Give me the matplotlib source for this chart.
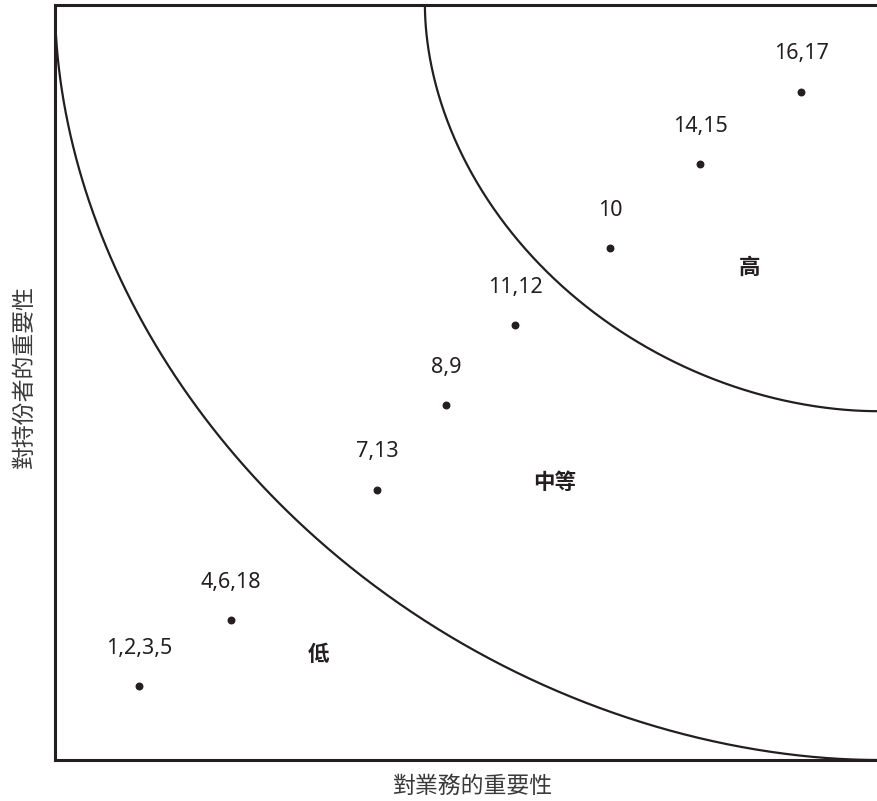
import numpy as np
import matplotlib
matplotlib.use("Agg")
import matplotlib.pyplot as plt

plt.rcParams['font.family'] = ['Noto Sans CJK TC', 'DejaVu Sans']

# Data (in 0-10 units for both axes)
labels = ["1,2,3,5", "4,6,18", "7,13", "8,9", "11,12", "10", "14,15", "16,17"]
x_vals = [1.02, 2.14, 3.92, 4.76, 5.60, 6.75, 7.85, 9.08]
y_vals = [0.98, 1.85, 3.58, 4.70, 5.76, 6.78, 7.89, 8.85]

zone_names = ["低", "中等", "高"]
zone_x = [3.20, 6.08, 8.45]
zone_y = [1.40, 3.67, 6.52]

# boundary curves: quarter (super)ellipses centred at the top-right corner (10, 10)
outer_radii = (10.0, 10.0)
inner_radii = (5.5, 5.38)
curve_power = 1.9

x_label = "對業務的重要性"
y_label = "對持份者的重要性"

ink = "#231f20"

fig = plt.figure(figsize=(8.77, 8.01), dpi=100)
ax = fig.add_axes([55/877, 41/801, 1 - 55/877, 755/801])
ax.set_xlim(0, 10)
ax.set_ylim(0, 10)

t = np.linspace(0, 0.5*np.pi, 600)
c, s = np.cos(t), np.sin(t)
for rx, ry in (outer_radii, inner_radii):
    xs = 10 - rx * c**(2/curve_power)
    ys = 10 - ry * s**(2/curve_power)
    ax.plot(xs, ys, color=ink, lw=1.6, solid_capstyle='butt', clip_on=True)

ax.scatter(x_vals, y_vals, s=22, color=ink, zorder=3)
for lab, xv, yv in zip(labels, x_vals, y_vals):
    ax.annotate(lab, (xv, yv), xytext=(0, 38), textcoords='offset pixels',
                ha='center', va='center', fontsize=15.5, color=ink,
                family=['Noto Sans', 'DejaVu Sans'], fontweight='light')

for name, zx, zy in zip(zone_names, zone_x, zone_y):
    ax.text(zx, zy, name, ha='center', va='center', fontsize=15.5,
            color=ink, fontweight='bold')

for side in ('top', 'left', 'bottom'):
    ax.spines[side].set_linewidth(2.2)
    ax.spines[side].set_color(ink)
ax.spines['right'].set_visible(False)
ax.set_xticks([])
ax.set_yticks([])

fig.text(473/877, 1 - 786/801, x_label, ha='center', va='center',
         fontsize=16.5, color='#3a3a3a', fontweight='light')
fig.text(24/877, 1 - 376/801, y_label, ha='center', va='center',
         fontsize=16.5, color='#3a3a3a', fontweight='light', rotation=90)

fig.savefig("out.png", dpi=100)
